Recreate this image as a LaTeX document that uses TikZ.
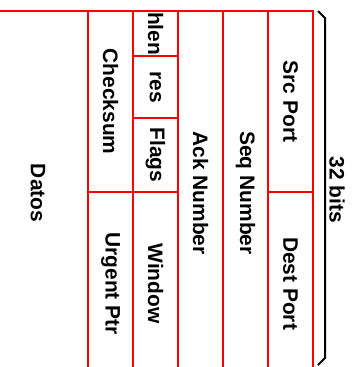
\documentclass[tikz,border=0pt]{standalone}
\usepackage{fontspec}
\setmainfont{Liberation Sans}
\usetikzlibrary{positioning}
\tikzstyle{field}=[rectangle, draw=red, line width=2bp, rotate=-90, inner sep=0pt, minimum height=45bp, font=\fontsize{21}{24}\selectfont\bfseries]
\tikzstyle{brace}=[draw=black, line width=2bp]
\tikzstyle{bitlabel}=[rotate=-90, inner sep=0pt, font=\fontsize{21}{24}\selectfont\bfseries]

\begin{document}
\begin{tikzpicture}[x=1bp, y=-1bp]
            \useasboundingbox (0,0) rectangle (356,367);
            %Ports
            \node[field, minimum width=181bp] (src) at (290.5,101.5) {Src Port};
            \node[field, minimum width=183bp] (dst) at (290.5,283.5) {Dest Port};
            %Sequence and ack numbers, full width
            \node[field, minimum width=364bp] (seq) at (245.5,193) {Seq Number};
            \node[field, minimum width=364bp] (ack) at (200.5,193) {Ack Number};
            %Header length, reserved bits, flags and window
            \node[field, minimum width=45bp] (hlen) at (155.5,33.5) {hlen};
            \node[field, minimum width=62bp] (res) at (155.5,87) {res};
            \node[field, minimum width=74bp] (flags) at (155.5,155) {Flags};
            \node[field, minimum width=183bp] (win) at (155.5,283.5) {Window};
            %Checksum and urgent pointer
            \node[field, minimum width=181bp] (csum) at (110.5,101.5) {Checksum};
            \node[field, minimum width=183bp] (urg) at (110.5,283.5) {Urgent Ptr};
            %Payload
            \node[field, minimum width=364bp, minimum height=100bp] (datos) at (38,193) {Datos};

            %Brace over the 32 bit width
            \coordinate (b1) at (318,11);
            \coordinate (b2) at (325,18);
            \coordinate (b3) at (325,358);
            \coordinate (b4) at (318,365);
            \draw[brace] (b1) -- (b2) -- (b3) -- (b4);
            \node[bitlabel] (bits) at (337,190) {32 bits};
        \end{tikzpicture}
\end{document}
